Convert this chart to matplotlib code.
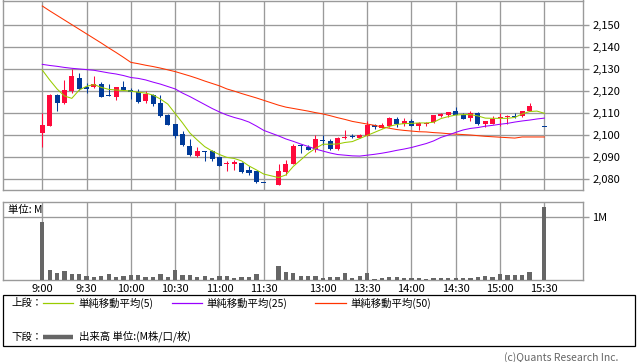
import numpy as np
import matplotlib
matplotlib.use('Agg')
import matplotlib.pyplot as plt
from matplotlib.patches import Rectangle
from matplotlib.lines import Line2D

plt.rcParams['font.family'] = ['Noto Sans CJK JP', 'DejaVu Sans']

nan = np.nan

# 5-minute slots ('' = empty slot between sessions)
times = ['9:00', '9:05', '9:10', '9:15', '9:20', '9:25', '9:30', '9:35', '9:40', '9:45',
         '9:50', '9:55', '10:00', '10:05', '10:10', '10:15', '10:20', '10:25', '10:30', '10:35',
         '10:40', '10:45', '10:50', '10:55', '11:00', '11:05', '11:10', '11:15', '11:20', '11:25',
         '11:30', '', '12:30', '12:35', '12:40', '12:45', '12:50', '12:55', '13:00', '13:05',
         '13:10', '13:15', '13:20', '13:25', '13:30', '13:35', '13:40', '13:45', '13:50', '13:55',
         '14:00', '14:05', '14:10', '14:15', '14:20', '14:25', '14:30', '14:35', '14:40', '14:45',
         '14:50', '14:55', '15:00', '15:05', '15:10', '15:15', '15:20', '15:25', '15:30']

opens = [2101, 2104, 2118, 2114.5, 2120, 2126, 2122, 2122, 2123, 2118,
         2117, 2122, 2120.5, 2119.5, 2115.5, 2118, 2114.5, 2109, 2105, 2100.5,
         2095, 2090.5, 2092.5, 2092.5, 2090, 2086.5, 2086.5, 2087, 2084, 2083.5,
         2078, nan, 2077, 2083, 2086.5, 2095.5, 2094.5, 2093.5, 2097.5, 2097,
         2093.5, 2098.5, 2099.5, 2098.5, 2099.5, 2104.5, 2103, 2104, 2107, 2105,
         2106.5, 2104, 2105, 2106, 2108.5, 2109, 2111, 2109, 2107.5, 2110,
         2105, 2105, 2107.5, 2108, 2108.5, 2108.5, 2111, nan, 2103.5]
highs = [2110, 2118.5, 2118.5, 2125, 2130, 2128, 2123.5, 2127, 2124, 2123,
         2122, 2124.5, 2121.5, 2121, 2120, 2118.5, 2118, 2109.5, 2105, 2101.5,
         2098, 2094.5, 2092.5, 2093, 2090, 2088, 2088.5, 2087.5, 2086, 2083.5,
         2078, nan, 2086.5, 2088.5, 2096, 2096, 2095.5, 2100, 2100, 2098,
         2099, 2102, 2100.5, 2100.5, 2106.5, 2105, 2105.5, 2108, 2108, 2107.5,
         2107, 2106, 2106, 2109, 2110, 2110.5, 2112.5, 2110, 2111, 2110.5,
         2106.5, 2108.5, 2110, 2109, 2110, 2111, 2114.5, nan, 2103.5]
lows = [2094.5, 2104, 2111, 2114, 2119, 2120.5, 2119, 2121.5, 2117, 2117.5,
        2116, 2120.5, 2116.5, 2114.5, 2114.5, 2113, 2108, 2104.5, 2098.5, 2095,
        2090.5, 2090, 2088, 2088, 2086, 2083.5, 2084, 2082.5, 2081.5, 2078,
        2078, nan, 2077, 2081.5, 2086.5, 2091.5, 2093, 2092, 2095.5, 2093,
        2093, 2098, 2098.5, 2098.5, 2099.5, 2102.5, 2103, 2103.5, 2103.5, 2104,
        2104, 2102, 2104, 2105.5, 2108, 2108, 2109, 2107, 2106.5, 2104.5,
        2103.5, 2105, 2104, 2105, 2107.5, 2108, 2111, nan, 2103.5]
closes = [2104.5, 2118, 2114.5, 2120.5, 2127, 2121, 2121, 2123, 2117, 2117.5,
          2122, 2120.5, 2119.5, 2115, 2118.5, 2114, 2108.5, 2104.5, 2099.5, 2095.5,
          2091, 2092.5, 2092, 2089, 2086, 2087, 2087.5, 2083, 2082.5, 2078.5,
          2078, nan, 2083.5, 2086.5, 2095, 2095, 2093, 2098, 2097, 2093.5,
          2098.5, 2099, 2099, 2100, 2104.5, 2103.5, 2104.5, 2107.5, 2105, 2106.5,
          2104, 2105.5, 2105.5, 2109, 2109.5, 2110.5, 2109, 2107, 2110, 2105,
          2106.5, 2107, 2108, 2108.5, 2108, 2111, 2113, nan, 2103.5]

ma5 = [2129.5, 2125, 2120.9, 2117.7, 2116.6, 2120.4, 2122.1, 2122.9, 2121.6, 2120.7,
       2120.4, 2120.2, 2119.9, 2119.4, 2119, 2118.1, 2116.3, 2114, 2109.7, 2105.4,
       2100.8, 2097.6, 2094.6, 2092.6, 2091, 2089.7, 2089.2, 2088.1, 2085.8, 2084,
       2082.1, nan, 2080.5, 2081.7, 2085.6, 2088.5, 2091.5, 2093.8, 2095.7, 2095.7,
       2095.8, 2096.5, 2096.9, 2098.3, 2099.7, 2101.1, 2102.5, 2103.8, 2104.7, 2105.1,
       2105.2, 2105.4, 2105.4, 2105.7, 2107.4, 2108.3, 2109, 2109.2, 2109.2, 2108.6,
       2107.6, 2107.5, 2107.5, 2107.5, 2107.9, 2109.5, 2110.6, 2110.8, 2109.8]
ma25 = [2132.1, 2131.6, 2131.2, 2130.7, 2130.3, 2130, 2129.7, 2129.4, 2128.8, 2128.2,
        2127.7, 2127, 2126.1, 2125.7, 2125, 2124, 2123.1, 2122, 2120.9, 2119,
        2117.4, 2115.6, 2113.8, 2112, 2110.4, 2109, 2107.9, 2107, 2105.8, 2104,
        2102, nan, 2099.5, 2098.1, 2097, 2095.8, 2094.7, 2093.5, 2092.6, 2091.7,
        2091, 2090.7, 2090.4, 2090.3, 2090.7, 2091.1, 2091.6, 2092.2, 2092.9, 2093.5,
        2094.2, 2095.1, 2096, 2097.2, 2098.8, 2099.9, 2101.1, 2102.2, 2102.9, 2103.3,
        2103.9, 2104.3, 2104.8, 2105.2, 2105.8, 2106.3, 2106.7, 2107.2, 2107.6]
ma50 = [2158.7, 2156.5, 2154.4, 2152.3, 2150.2, 2148.1, 2146, 2143.9, 2141.8, 2139.6,
        2137.5, 2135.3, 2133, 2132.4, 2131.7, 2131.1, 2130.4, 2129.6, 2128.8, 2127.8,
        2126.8, 2125.7, 2124.5, 2123.4, 2122.3, 2120.9, 2119.9, 2118.8, 2117.8, 2116.8,
        2115.7, nan, 2113.5, 2112.6, 2112, 2111.4, 2110.8, 2110.1, 2109.5, 2108.7,
        2107.8, 2107, 2106.1, 2105.5, 2104.9, 2104.3, 2103.6, 2103, 2102.4, 2102,
        2101.7, 2101.4, 2101.3, 2101, 2100.8, 2100.5, 2100.3, 2100.1, 2099.9, 2099.6,
        2099.3, 2099.1, 2098.9, 2098.7, 2098.5, 2099, 2099, 2099, 2099]

volume_m = [0.93, 0.17, 0.116, 0.14, 0.095, 0.095, 0.063, 0.053, 0.063, 0.095,
            0.053, 0.063, 0.079, 0.079, 0.047, 0.047, 0.095, 0.047, 0.17, 0.079,
            0.079, 0.053, 0.063, 0.037, 0.063, 0.063, 0.032, 0.047, 0.047, 0.095,
            0.01, nan, 0.22, 0.126, 0.11, 0.063, 0.063, 0.063, 0.032, 0.047,
            0.047, 0.11, 0.032, 0.063, 0.11, 0.016, 0.032, 0.047, 0.047, 0.032,
            0.032, 0.032, 0.016, 0.032, 0.032, 0.032, 0.032, 0.032, 0.032, 0.047,
            0.063, 0.047, 0.095, 0.079, 0.079, 0.079, 0.126, nan, 1.16]

tick_labels = ['9:00', '9:30', '10:00', '10:30', '11:00', '11:30',
               '13:00', '13:30', '14:00', '14:30', '15:00', '15:30']
price_ticks = [2080, 2090, 2100, 2110, 2120, 2130, 2140, 2150]
volume_ticks = [1.0]
volume_tick_labels = ['1M']

# ------------------------------------------------------------------
W, H = 638, 362
fig = plt.figure(figsize=(W / 100, H / 100), dpi=100)
fig.patch.set_facecolor('white')


def rect(x0, y0, x1, y1):
    return [x0 / W, 1 - y1 / H, (x1 - x0) / W, (y1 - y0) / H]


def fx(x):
    return x / W


def fy(y):
    return 1 - y / H


GRID = '#9a9a9a'
UP = '#ff0a3c'
DOWN = '#003a99'

axp = fig.add_axes(rect(3, 0.5, 582.7, 190.3))
axv = fig.add_axes(rect(3, 201.7, 582.7, 280.3))

x = np.arange(len(times))
o = np.array(opens, float)
h = np.array(highs, float)
l = np.array(lows, float)
c = np.array(closes, float)
valid = ~np.isnan(o)
xi = x[valid]
ov, hv, lv, cv = o[valid], h[valid], l[valid], c[valid]
cols = [UP if cc > oo else DOWN for oo, cc in zip(ov, cv)]

tick_pos = [times.index(t) for t in tick_labels]
xlim = (-5.32, 73.2)

for ax in (axp, axv):
    ax.set_xlim(*xlim)
    ax.set_axisbelow(True)
    for s in ax.spines.values():
        s.set_color(GRID)
        s.set_linewidth(1.0)
    ax.set_xticks(tick_pos)
    ax.grid(True, color=GRID, linewidth=0.95)
    ax.yaxis.tick_right()
    ax.tick_params(axis='y', length=4, color=GRID, width=1.0, labelsize=8, pad=3)

# price panel
axp.set_ylim(2074.7, 2161.2)
axp.set_yticks(price_ticks)
axp.set_yticklabels([f"{v:,}" for v in price_ticks])
axp.tick_params(axis='x', length=0, labelbottom=False)

axp.vlines(xi, lv, hv, colors=cols, linewidth=0.75, zorder=3)
body_bottom = np.minimum(ov, cv)
body_h = np.maximum(np.abs(cv - ov), 0.5)
axp.bar(xi, body_h, bottom=body_bottom, width=0.68, color=cols, linewidth=0, zorder=3)

for ma, col in ((ma50, '#ff3300'), (ma25, '#9900ff'), (ma5, '#99cc00')):
    arr = np.array(ma, float)
    m = ~np.isnan(arr)
    axp.plot(x[m], arr[m], color=col, linewidth=0.75, zorder=4)

# volume panel
vol = np.array(volume_m, float)
vm = ~np.isnan(vol)
axv.bar(x[vm], vol[vm], width=0.58, color='#666666', linewidth=0, zorder=3)
axv.set_ylim(0, 1.248)
axv.set_yticks(volume_ticks)
axv.set_yticklabels(volume_tick_labels)
axv.set_xticklabels(tick_labels)
axv.tick_params(axis='x', length=0, labelsize=8, pad=2.5)
axv.text(0.009, 0.9, '単位: M', transform=axv.transAxes, fontsize=7.5,
         ha='left', va='center', zorder=5)

# legend box
fig.add_artist(Rectangle((fx(3.3), fy(346)), fx(635.3) - fx(3.3), fy(295) - fy(346),
                         transform=fig.transFigure, fill=False, edgecolor='black',
                         linewidth=0.9))
fs = 7.5
y1, y2 = 303.3, 336.7
fig.text(fx(11.5), fy(y1), '上段：', fontsize=fs, ha='left', va='center')
items = [(43.3, 73.3, 78.3, '#99cc00', '単純移動平均(5)'),
         (171.7, 201.7, 206.7, '#9900ff', '単純移動平均(25)'),
         (315.0, 345.7, 350.3, '#ff3300', '単純移動平均(50)')]
for xa, xb, xt, col, lab in items:
    fig.add_artist(Line2D([fx(xa), fx(xb)], [fy(y1), fy(y1)], color=col, linewidth=0.9,
                          transform=fig.transFigure))
    fig.text(fx(xt), fy(y1), lab, fontsize=fs, ha='left', va='center')

fig.text(fx(11.5), fy(y2), '下段：', fontsize=fs, ha='left', va='center')
fig.add_artist(Line2D([fx(43.3), fx(73.3)], [fy(y2), fy(y2)], color='#666666', linewidth=3.2,
                      transform=fig.transFigure, solid_capstyle='butt'))
fig.text(fx(79.3), fy(y2), '出来高 単位:(M株/口/枚)', fontsize=fs, ha='left', va='center')

fig.text(fx(618), fy(357.5), '(c)Quants Research Inc.', fontsize=7.5, ha='right',
         va='center', color='#666666')

fig.savefig('out.png', dpi=100)
